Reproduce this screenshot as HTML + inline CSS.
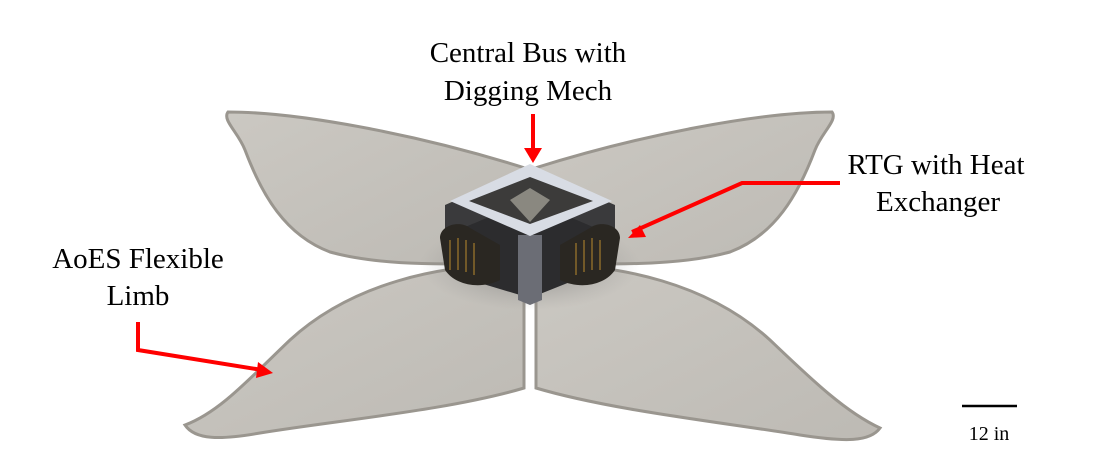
<!DOCTYPE html>
<html><head><style>
html,body{margin:0;padding:0;background:#fff;}
svg{display:block;}
text{font-family:"Liberation Serif",serif;fill:#000;}
</style></head><body>
<svg width="1094" height="476" viewBox="0 0 1094 476" xmlns="http://www.w3.org/2000/svg">
<defs>
<linearGradient id="pg" x1="0" y1="0" x2="1" y2="1"><stop offset="0" stop-color="#cbc8c2"/><stop offset="1" stop-color="#bdbab4"/></linearGradient>
<radialGradient id="sh" cx="0.5" cy="0.5" r="0.5"><stop offset="0" stop-color="#555" stop-opacity="0.6"/><stop offset="1" stop-color="#888" stop-opacity="0"/></radialGradient>
</defs>
<g fill="url(#pg)" stroke="#9a968f" stroke-width="3">
<path d="M228,112 C300,112 420,135 525,168 L525,260 C460,266 380,266 330,252 C285,235 262,195 245,150 C238,132 222,120 228,112 Z"/>
<path d="M832,112 C760,112 640,135 535,168 L535,260 C600,266 680,266 730,252 C775,235 798,195 815,150 C822,132 838,120 832,112 Z"/>
<path d="M524,266 C440,262 350,285 290,340 C250,378 220,412 185,425 C195,440 220,440 260,433 C340,420 450,410 524,388 Z"/>
<path d="M536,266 C620,262 710,285 770,340 C810,378 845,412 880,428 C870,442 845,442 800,435 C720,422 610,410 536,388 Z"/>
</g>
<ellipse cx="530" cy="265" rx="110" ry="45" fill="url(#sh)"/>
<path d="M445,205 L530,168 L615,205 L615,240 L530,300 L445,240 Z" fill="#3a3a3c"/>
<path d="M458,230 L530,200 L530,298 L470,280 Z" fill="#2c2c2e"/>
<path d="M530,200 L600,230 L595,272 L530,298 Z" fill="#2c2c2e"/>
<path d="M518,235 L542,235 L542,300 L530,305 L518,300 Z" fill="#6b6d75"/>
<path d="M440,238 C440,225 460,220 470,228 L500,245 L500,280 C480,290 455,285 445,270 Z" fill="#2a2722"/>
<path d="M620,238 C620,225 600,220 590,228 L560,245 L560,280 C580,290 605,285 615,270 Z" fill="#2a2722"/>
<g stroke="#8a6a2a" stroke-width="1.5" fill="none">
<path d="M450,240 l0,30 M458,238 l0,32 M466,240 l0,32 M474,243 l0,32"/>
<path d="M600,240 l0,30 M592,238 l0,32 M584,240 l0,32 M576,243 l0,32"/>
</g>
<path d="M530,164 L612,201 L530,236 L450,201 Z" fill="#d8dce4"/>
<path d="M530,177 L593,201 L530,224 L469,201 Z" fill="#3c3b3a"/>
<path d="M510,200 L530,188 L550,200 L530,222 Z" fill="#8a8880"/>
<g stroke="#f00" stroke-width="4" fill="none">
<line x1="533" y1="114" x2="533" y2="150"/>
<polyline points="840,183 742,183 632,232"/>
<polyline points="138,322 138,350 262,370"/>
</g>
<g fill="#f00">
<polygon points="524,148 542,148 533,163"/>
<polygon points="628,238 640,225 646,237"/>
<polygon points="273,373 258,362 256,378"/>
</g>
<text x="528" y="62" font-size="29" text-anchor="middle">Central Bus with</text>
<text x="528" y="100" font-size="29" text-anchor="middle">Digging Mech</text>
<text x="936" y="174" font-size="29" text-anchor="middle">RTG with Heat</text>
<text x="938" y="211" font-size="29" text-anchor="middle">Exchanger</text>
<text x="138" y="268" font-size="29" text-anchor="middle">AoES Flexible</text>
<text x="138" y="305" font-size="29" text-anchor="middle">Limb</text>
<line x1="962" y1="406" x2="1017" y2="406" stroke="#000" stroke-width="2.5"/>
<text x="989" y="440" font-size="20" text-anchor="middle">12 in</text>
</svg>
</body></html>
